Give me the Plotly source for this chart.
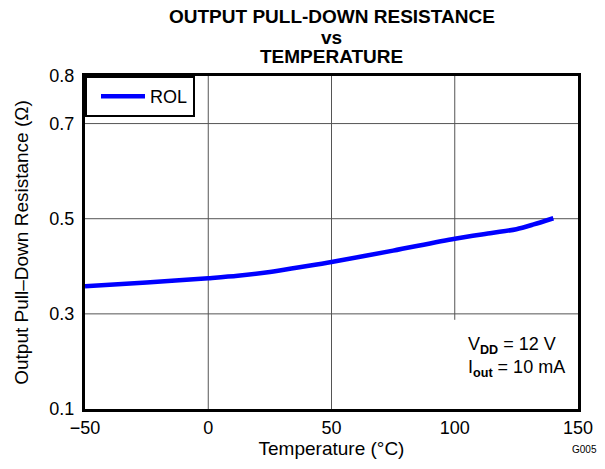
import plotly.graph_objects as go

temperature_c = [-50, -25, 0, 12, 25, 37, 50, 75, 100, 115, 125, 132, 140]
rol_ohm = [0.358, 0.366, 0.375, 0.380, 0.388, 0.398, 0.409, 0.433, 0.458, 0.470, 0.478, 0.488, 0.501]
x_ticks = [-50, 0, 50, 100, 150]
y_ticks = [0.1, 0.3, 0.5, 0.7, 0.8]
x_grid = [0, 50, 100]
y_grid = [0.3, 0.5, 0.7]

FONT = "Liberation Sans, Arial, sans-serif"

fig = go.Figure()
fig.add_trace(go.Scatter(x=temperature_c, y=rol_ohm, mode="lines", name="ROL",
                         line=dict(color="#0000FF", width=4.5, shape="spline", smoothing=0.8)))

shapes = []
for gx in x_grid:
    y0 = 0.2875 if gx == 100 else 0.1
    shapes.append(dict(type="line", xref="x", yref="y", x0=gx, x1=gx, y0=y0, y1=0.8,
                       line=dict(color="#555555", width=1), layer="below"))
for gy in y_grid:
    shapes.append(dict(type="line", xref="x", yref="y", x0=-50, x1=150, y0=gy, y1=gy,
                       line=dict(color="#555555", width=1), layer="below"))

H = 336.0
W = 497.0
def py(px):
    return 1 + (76 - px) / H
def px_(x):
    return (x - 85) / W

annotations = [
    dict(text="<b>OUTPUT PULL-DOWN RESISTANCE</b>", x=0.5, y=py(16), xref="paper", yref="paper",
         showarrow=False, font=dict(size=19, family=FONT, color="black"), yanchor="middle"),
    dict(text="<b>vs</b>", x=0.5, y=py(37), xref="paper", yref="paper",
         showarrow=False, font=dict(size=19, family=FONT, color="black"), yanchor="middle"),
    dict(text="<b>TEMPERATURE</b>", x=0.5, y=py(56), xref="paper", yref="paper",
         showarrow=False, font=dict(size=19, family=FONT, color="black"), yanchor="middle"),
    dict(text="V<sub><b>DD</b></sub> = 12 V<br>I<sub><b>out</b></sub> = 10 mA",
         x=px_(469), y=py(360), xref="paper", yref="paper", xanchor="left",
         yanchor="middle", align="left", showarrow=False,
         font=dict(size=18, family=FONT, color="black")),
    dict(text="G005", x=px_(603), y=py(453), xref="paper", yref="paper",
         xanchor="right", yanchor="middle", showarrow=False,
         font=dict(size=10, family=FONT, color="black")),
]

fig.update_layout(
    width=605, height=469,
    margin=dict(l=85, r=23, t=76, b=57),
    paper_bgcolor="white", plot_bgcolor="white",
    font=dict(family=FONT, size=18, color="black"),
    shapes=shapes, annotations=annotations,
    showlegend=True,
    legend=dict(x=0, y=1, xanchor="left", yanchor="top", bgcolor="white",
                bordercolor="black", borderwidth=2, itemwidth=44, indentation=9,
                font=dict(size=18, family=FONT)),
)
fig.update_xaxes(range=[-50, 150], tickvals=x_ticks, ticktext=["\u221250", "0", "50", "100", "150"],
                 showgrid=False, zeroline=False, showline=True, linecolor="black", linewidth=3,
                 mirror=True, ticks="", tickfont=dict(size=18),
                 title=dict(text="Temperature (°C)", standoff=6, font=dict(size=19)))
fig.update_yaxes(range=[0.1, 0.8], tickvals=y_ticks, ticktext=["0.1", "0.3", "0.5", "0.7", "0.8"],
                 showgrid=False, zeroline=False, showline=True, linecolor="black", linewidth=3,
                 mirror=True, ticks="", ticklabelstandoff=4, tickfont=dict(size=18),
                 title=dict(text="Output Pull\u2013Down Resistance (\u03a9)", standoff=16,
                 font=dict(size=19)))

fig.write_html("out.html", config={"displayModeBar": False},
               post_script="document.body.style.margin='0';")
